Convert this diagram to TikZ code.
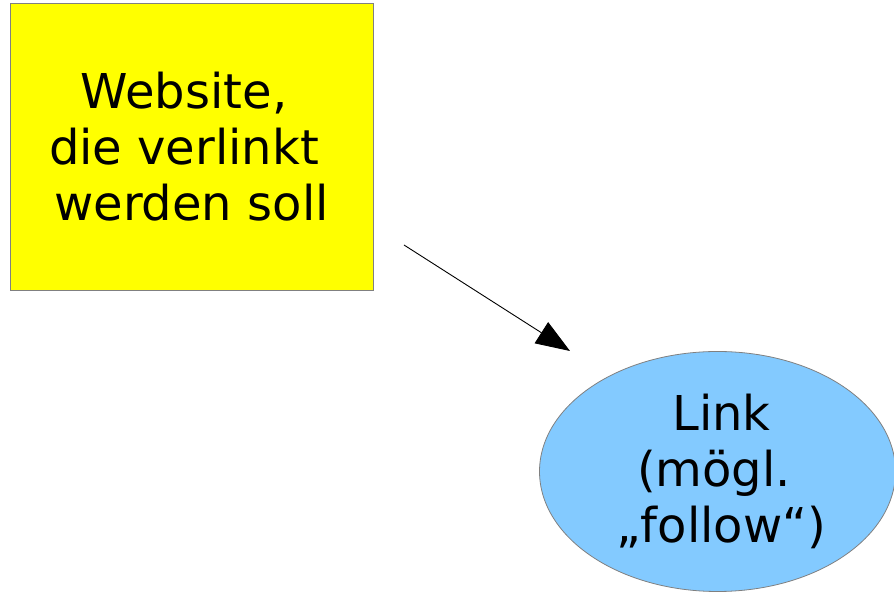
\documentclass[tikz,border=0pt]{standalone}
\usepackage{fontspec}
\setmainfont{DejaVu Sans}
\usetikzlibrary{arrows.meta,shapes.geometric}
\definecolor{boxyellow}{RGB}{255,255,0}
\definecolor{ellblue}{RGB}{131,202,255}
\definecolor{edgegrey}{RGB}{128,128,128}
\newcommand{\tsp}{\hspace*{15pt}\mbox{}}
\newcommand{\lsp}{\mbox{}\hspace*{8pt}}
\tikzset{
  bigtext/.style={font=\fontsize{48}{56}\selectfont, align=center, text=black},
  yellowbox/.style={rectangle, draw=edgegrey, line width=0.8pt, fill=boxyellow, minimum width=363pt, minimum height=287pt, inner sep=0pt, bigtext},
  blueell/.style={ellipse, draw=edgegrey, line width=0.8pt, fill=ellblue, minimum width=356pt, minimum height=240pt, inner sep=0pt, bigtext},
  linkarrow/.style={line width=0.9pt, -{Triangle[length=34pt,width=25pt]}}
}
\begin{document}
\begin{tikzpicture}[x=1pt,y=1pt]
\useasboundingbox (0,0) rectangle (894,593);
\node[yellowbox] (site) at (191.5,446.5) {Website,\tsp\\die verlinkt\tsp\\werden soll};
\node[blueell] (link) at (717.5,121.5) {\lsp Link\\\lsp(mögl.\tsp\\\lsp„follow“)};
\coordinate (from) at (404,348);
\coordinate (to) at (570,242);
\draw[linkarrow] (from) -- (to);
\end{tikzpicture}
\end{document}
